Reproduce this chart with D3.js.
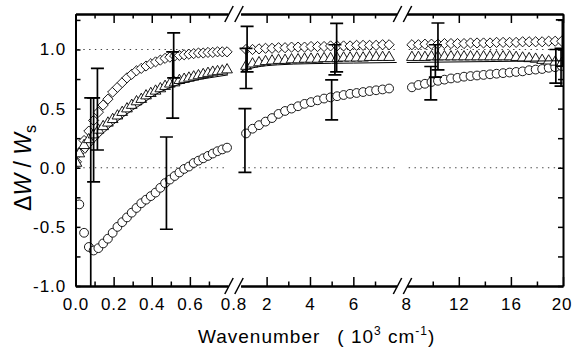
<!DOCTYPE html>
<html>
<head>
<meta charset="utf-8">
<script src="https://cdn.jsdelivr.net/npm/d3@7"></script>
<style>
body { margin: 0; padding: 0; background: #fff; }
svg { display: block; font-family: "Liberation Sans", Arial, sans-serif; }
</style>
</head>
<body>
<div id="viz"></div>
<script>
// wavenumber grid (10^3 cm^-1), one per axis segment
var xLow  = [0.005, 0.02, 0.045, 0.07, 0.095, 0.12, 0.145, 0.17, 0.195, 0.22, 0.245, 0.27, 0.295, 0.32, 0.345, 0.37, 0.395, 0.42, 0.445, 0.47, 0.495, 0.52, 0.545, 0.57, 0.595, 0.62, 0.645, 0.67, 0.695, 0.72, 0.745, 0.77, 0.795];
var xMid  = [1.05, 1.35, 1.65, 1.95, 2.25, 2.55, 2.85, 3.15, 3.45, 3.75, 4.05, 4.35, 4.65, 4.95, 5.25, 5.55, 5.85, 6.15, 6.45, 6.75, 7.05, 7.35, 7.65];
var xHigh = [8.4, 8.9, 9.4, 9.9, 10.4, 10.9, 11.4, 11.9, 12.4, 12.9, 13.4, 13.9, 14.4, 14.9, 15.4, 15.9, 16.4, 16.9, 17.4, 17.9, 18.4, 18.9, 19.4, 19.9];

// diamonds
var diaLow  = [0.05, 0.13, 0.23, 0.31, 0.40, 0.47, 0.53, 0.58, 0.64, 0.68, 0.72, 0.76, 0.79, 0.82, 0.84, 0.86, 0.88, 0.895, 0.91, 0.925, 0.935, 0.945, 0.95, 0.955, 0.96, 0.965, 0.97, 0.97, 0.975, 0.975, 0.98, 0.98, 0.98];
var diaMid  = [1.0, 1.0, 1.005, 1.01, 1.01, 1.015, 1.015, 1.02, 1.02, 1.02, 1.025, 1.025, 1.025, 1.03, 1.03, 1.03, 1.03, 1.035, 1.035, 1.035, 1.035, 1.04, 1.04];
var diaHigh = [1.04, 1.04, 1.045, 1.045, 1.045, 1.05, 1.05, 1.05, 1.05, 1.055, 1.055, 1.055, 1.055, 1.06, 1.06, 1.06, 1.06, 1.065, 1.065, 1.065, 1.065, 1.07, 1.07, 1.07];

// triangles
var triLow  = [0.03, 0.11, 0.18, 0.23, 0.27, 0.31, 0.34, 0.37, 0.40, 0.43, 0.46, 0.49, 0.52, 0.55, 0.57, 0.60, 0.62, 0.64, 0.66, 0.68, 0.70, 0.71, 0.73, 0.74, 0.75, 0.76, 0.77, 0.78, 0.79, 0.80, 0.805, 0.81, 0.82];
var triMid  = [0.85, 0.87, 0.88, 0.89, 0.895, 0.9, 0.9, 0.905, 0.905, 0.91, 0.91, 0.91, 0.915, 0.915, 0.915, 0.92, 0.92, 0.92, 0.92, 0.925, 0.925, 0.925, 0.925];
var triHigh = [0.925, 0.925, 0.925, 0.93, 0.93, 0.93, 0.93, 0.93, 0.93, 0.93, 0.93, 0.93, 0.93, 0.93, 0.93, 0.93, 0.925, 0.92, 0.915, 0.91, 0.9, 0.895, 0.885, 0.875];

// circles
var cirLow  = [null, -0.31, -0.55, -0.67, -0.70, -0.68, -0.64, -0.60, -0.55, -0.50, -0.46, -0.42, -0.38, -0.34, -0.30, -0.27, -0.24, -0.21, -0.17, -0.13, -0.10, -0.07, -0.04, -0.01, 0.01, 0.04, 0.06, 0.08, 0.10, 0.12, 0.14, 0.155, 0.17];
var cirMid  = [0.29, 0.33, 0.36, 0.39, 0.42, 0.455, 0.48, 0.50, 0.52, 0.54, 0.555, 0.57, 0.585, 0.595, 0.605, 0.615, 0.625, 0.632, 0.64, 0.648, 0.655, 0.662, 0.67];
var cirHigh = [0.68, 0.70, 0.71, 0.725, 0.735, 0.745, 0.755, 0.76, 0.77, 0.775, 0.78, 0.785, 0.79, 0.795, 0.80, 0.805, 0.81, 0.815, 0.825, 0.83, 0.835, 0.845, 0.85, 0.86];

// solid curve under the triangles, per segment
var fitLow  = [[0.05, 0.12], [0.1, 0.22], [0.15, 0.30], [0.2, 0.37], [0.25, 0.43], [0.3, 0.49], [0.35, 0.54], [0.4, 0.60], [0.45, 0.645], [0.5, 0.68], [0.6, 0.73], [0.7, 0.76], [0.8, 0.785]];
var fitMid  = [[0.85, 0.82], [1.5, 0.85], [2.5, 0.87], [4, 0.88], [6, 0.885], [8, 0.89]];
var fitHigh = [[8, 0.89], [20, 0.905]];

// error bars: [x, low, high]
var errBars = [
  [0.08, -1.6, 0.59], [0.095, -0.12, 0.59], [0.115, 0.15, 0.84],
  [0.477, -0.52, 0.26], [0.51, 0.42, 0.98], [0.515, 0.76, 1.14],
  [1.0, -0.04, 0.5], [1.05, 0.67, 1.01], [1.1, 0.81, 1.195],
  [5.0, 0.404, 0.743], [5.15, 0.786, 1.04], [5.23, 0.81, 1.22],
  [9.85, 0.574, 0.856], [10.2, 0.766, 1.04], [10.4, 0.828, 1.224],
  [19.45, 0.715, 1.0], [19.85, 0.69, 1.01], [19.95, 0.86, 1.25]
];

var yMajor = [-1.0, -0.5, 0.0, 0.5, 1.0];
var yMinor = [-0.75, -0.25, 0.25, 0.75, 1.25];
var segMajor = [[0, 0.2, 0.4, 0.6], [2, 4, 6], [12, 16, 20]];
var segMinor = [[0.1, 0.3, 0.5, 0.7], [3, 5, 7], [10, 14, 18]];
var breakLabels = [["0.8", 234], ["8", 406.7]];

var svg = d3.select('#viz').append('svg')
  .attr('width', 572).attr('height', 347);

var top_ = 14, bot = 286, left = 75.5, right = 563;
var y = d3.scaleLinear().domain([-1, 1.3]).range([bot, top_]);
var segs = [
  d3.scaleLinear().domain([0, 0.8]).range([left, 228]),
  d3.scaleLinear().domain([0.8, 8]).range([240.6, 396.7]),
  d3.scaleLinear().domain([8, 20]).range([406.7, right])
];
function xPos(v) { return v <= 0.8 ? segs[0](v) : v <= 8 ? segs[1](v) : segs[2](v); }

svg.append('clipPath').attr('id', 'plot')
  .append('rect').attr('x', left).attr('y', top_).attr('width', right - left).attr('height', bot - top_);

// dotted reference lines
segs.forEach(function(s) {
  [0, 1].forEach(function(v) {
    svg.append('line')
      .attr('x1', s.range()[0] + 2).attr('x2', s.range()[1])
      .attr('y1', y(v)).attr('y2', y(v))
      .attr('stroke', '#444').attr('stroke-width', 1.2)
      .attr('stroke-dasharray', '1.4,4.4');
  });
});

var plot = svg.append('g').attr('clip-path', 'url(#plot)');

function series(xs, ys) {
  var out = [];
  xs.forEach(function(x, i) { if (ys[i] != null) out.push([x, ys[i]]); });
  return out;
}
var circles = series(xLow, cirLow).concat(series(xMid, cirMid), series(xHigh, cirHigh));
var diamonds = series(xLow, diaLow).concat(series(xMid, diaMid), series(xHigh, diaHigh));
var triangles = series(xLow, triLow).concat(series(xMid, triMid), series(xHigh, triHigh));

plot.selectAll('circle.c').data(circles).enter().append('circle')
  .attr('cx', function(d) { return xPos(d[0]); })
  .attr('cy', function(d) { return y(d[1]); })
  .attr('r', 4.4)
  .attr('fill', '#fff').attr('stroke', '#000').attr('stroke-width', 0.9);

var dia = d3.symbol().type(d3.symbolDiamond2).size(66);
plot.selectAll('path.d').data(diamonds).enter().append('path')
  .attr('d', dia)
  .attr('transform', function(d) { return 'translate(' + xPos(d[0]) + ',' + y(d[1]) + ')'; })
  .attr('fill', '#fff').attr('stroke', '#000').attr('stroke-width', 0.9);

var tri = d3.symbol().type(d3.symbolTriangle).size(50);
plot.selectAll('path.t').data(triangles).enter().append('path')
  .attr('d', tri)
  .attr('transform', function(d) { return 'translate(' + xPos(d[0]) + ',' + (y(d[1]) - 1) + ')'; })
  .attr('fill', '#fff').attr('stroke', '#000').attr('stroke-width', 0.9);

[[fitLow, 0], [fitMid, 1], [fitHigh, 2]].forEach(function(f) {
  var sc = segs[f[1]];
  plot.append('path')
    .attr('d', d3.line().curve(d3.curveMonotoneX)
      .x(function(d) { return sc(d[0]); })
      .y(function(d) { return y(d[1]); })(f[0]))
    .attr('fill', 'none').attr('stroke', '#000').attr('stroke-width', 1);
});

var eb = plot.selectAll('g.eb').data(errBars).enter().append('g')
  .attr('stroke', '#000').attr('stroke-width', 1.7);
eb.append('line')
  .attr('x1', function(d) { return xPos(d[0]); }).attr('x2', function(d) { return xPos(d[0]); })
  .attr('y1', function(d) { return y(d[1]); }).attr('y2', function(d) { return y(d[2]); });
[1, 2].forEach(function(k) {
  eb.append('line')
    .attr('x1', function(d) { return xPos(d[0]) - 6.5; }).attr('x2', function(d) { return xPos(d[0]) + 6.5; })
    .attr('y1', function(d) { return y(d[k]); }).attr('y2', function(d) { return y(d[k]); });
});

// axes
function styleAxis(g, w) {
  g.select('.domain').attr('stroke-width', w);
  g.selectAll('.tick line').attr('stroke-width', 1.5);
  g.selectAll('text').attr('font-size', 17).attr('fill', '#000').attr('letter-spacing', 0.9)
    .attr('font-family', '"Liberation Sans", Arial, sans-serif');
}
segs.forEach(function(s, i) {
  var gb = svg.append('g').attr('transform', 'translate(0,' + bot + ')');
  gb.call(d3.axisBottom(s).tickValues(segMinor[i]).tickSizeInner(-4.5).tickSizeOuter(0).tickFormat(''));
  gb.call(styleAxis, 2);
  var gb2 = svg.append('g').attr('transform', 'translate(0,' + bot + ')');
  gb2.call(d3.axisBottom(s).tickValues(segMajor[i]).tickSizeInner(-9).tickSizeOuter(0).tickPadding(12)
    .tickFormat(function(d) { return i === 0 ? d.toFixed(1) : String(d); }));
  gb2.call(styleAxis, 2);
  // last label sits right at the figure edge, nudge it in a little
  gb2.selectAll('text').filter(function(d) { return d === 20; }).attr('dx', -1.5);

  var gt = svg.append('g').attr('transform', 'translate(0,' + top_ + ')');
  gt.call(d3.axisTop(s).tickValues(segMinor[i]).tickSizeInner(-4.5).tickSizeOuter(0).tickFormat(''));
  gt.call(styleAxis, 2);
  var gt2 = svg.append('g').attr('transform', 'translate(0,' + top_ + ')');
  gt2.call(d3.axisTop(s).tickValues(segMajor[i]).tickSizeInner(-9).tickSizeOuter(0).tickFormat(''));
  gt2.call(styleAxis, 2);
});

breakLabels.forEach(function(b) {
  svg.append('text').text(b[0])
    .attr('x', b[1]).attr('y', bot + 12)
    .attr('dy', '0.71em').attr('text-anchor', 'middle').attr('font-size', 17).attr('letter-spacing', 0.9);
});

var gl = svg.append('g').attr('transform', 'translate(' + left + ',0)');
gl.call(d3.axisLeft(y).tickValues(yMajor.concat(yMinor)).tickSizeInner(-5).tickSizeOuter(0).tickPadding(9.5)
  .tickFormat(function(d) { return yMajor.indexOf(d) >= 0 ? d.toFixed(1) : ''; }));
gl.call(styleAxis, 2);

var gr = svg.append('g').attr('transform', 'translate(' + right + ',0)');
gr.call(d3.axisRight(y).tickValues(yMajor.concat(yMinor)).tickSizeInner(-5).tickSizeOuter(0).tickFormat(''));
gr.call(styleAxis, 2);

// axis breaks
[[229, 239], [397.5, 407.5]].forEach(function(b) {
  [top_, bot].forEach(function(yy) {
    b.forEach(function(cx) {
      svg.append('line')
        .attr('x1', cx - 4.2).attr('y1', yy + 8).attr('x2', cx + 4.2).attr('y2', yy - 8)
        .attr('stroke', '#000').attr('stroke-width', 1.5);
    });
  });
});

// axis titles
var xt = svg.append('text')
  .attr('x', 198).attr('y', 343)
  .attr('font-size', 19).attr('letter-spacing', 1).style('white-space', 'pre');
xt.append('tspan').text('Wavenumber');
xt.append('tspan').attr('dx', 17).text('(');
xt.append('tspan').text(' 10');
xt.append('tspan').attr('font-size', 12).attr('dy', -8).text('3');
xt.append('tspan').attr('dy', 8).text(' cm');
xt.append('tspan').attr('font-size', 12).attr('dy', -8).text('-1');
xt.append('tspan').attr('dy', 8).text(')');

var yt = svg.append('text')
  .attr('transform', 'translate(31,168) rotate(-90)')
  .attr('text-anchor', 'middle').attr('font-size', 23).style('white-space', 'pre');
yt.append('tspan').text('\u0394');
yt.append('tspan').attr('font-style', 'italic').text('W');
yt.append('tspan').text(' / ');
yt.append('tspan').attr('font-style', 'italic').text('W');
yt.append('tspan').attr('font-size', 16).attr('dy', 5).text('s');
</script>
</body>
</html>
